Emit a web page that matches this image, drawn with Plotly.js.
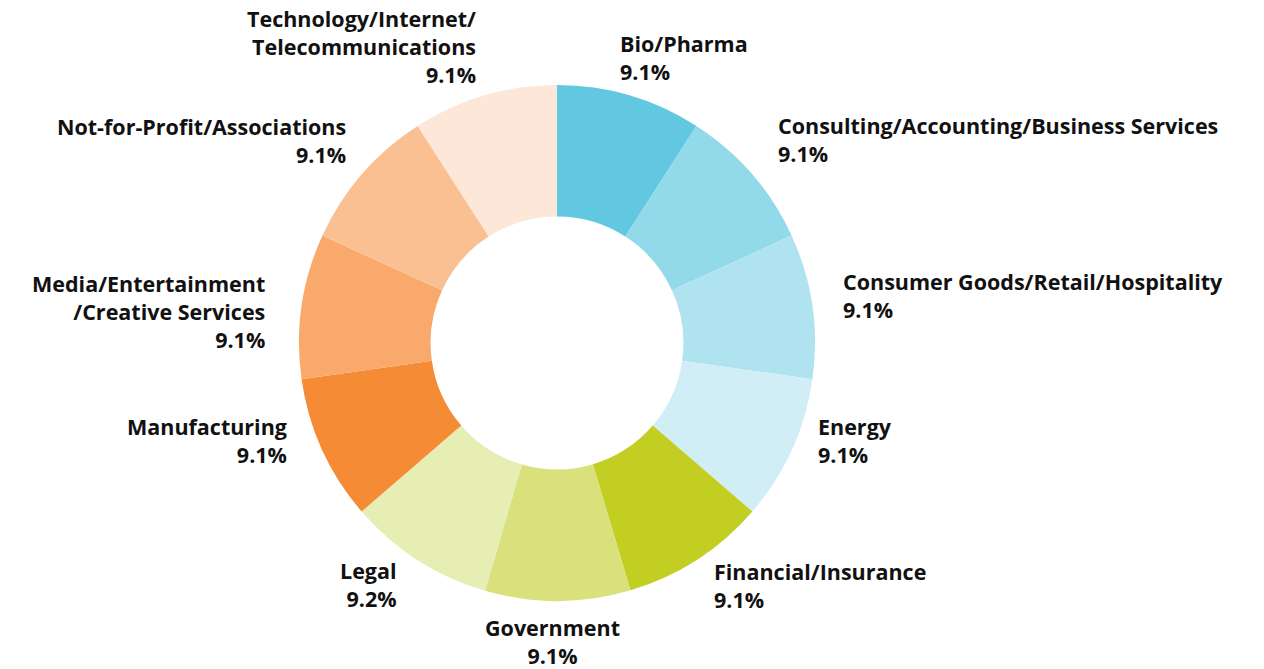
<!DOCTYPE html>
<html>
<head>
<meta charset="utf-8">
<script src="https://cdn.plot.ly/plotly-3.0.1.min.js"></script>
<style>
html,body{margin:0;padding:0;background:#fff;}
#chart{width:1264px;height:669px;}
</style>
</head>
<body>
<div id="chart"></div>
<script>
// ---- data ----
const categories = [
  "Bio/Pharma",
  "Consulting/Accounting/Business Services",
  "Consumer Goods/Retail/Hospitality",
  "Energy",
  "Financial/Insurance",
  "Government",
  "Legal",
  "Manufacturing",
  "Media/Entertainment<br>/Creative Services",
  "Not-for-Profit/Associations",
  "Technology/Internet/<br>Telecommunications"
];
const shares = [9.1, 9.1, 9.1, 9.1, 9.1, 9.1, 9.2, 9.1, 9.1, 9.1, 9.1];
const sliceColors = [
  "#62C8E1", "#92D9EA", "#B0E3F0", "#D1EEF6",
  "#C2CE22", "#D9E07C", "#E7EEB4",
  "#F68B35", "#F8A96B", "#FBC092", "#FDE7D8"
];

// ---- layout geometry (pixels) ----
const W = 1264, H = 669;
const cx = 557, cy = 343, R = 258;
const labelR = 292;
// small label nudges [dx, dy] in pixels (screen coords)
const nudges = [
  [-21, -5], [-2, -12], [-5, -6], [-7, -23], [-3, -3],
  [-5, 7], [0, -4], [-2, -23], [-1, 10], [12, -11], [3, -16]
];

const total = shares.reduce((a, b) => a + b, 0);
let cum = 0;
const annotations = shares.map((v, i) => {
  const mid = (cum + v / 2) / total * 2 * Math.PI;
  cum += v;
  const s = Math.sin(mid), c = Math.cos(mid);
  const px = cx + labelR * s + nudges[i][0];
  const py = cy - labelR * c + nudges[i][1];
  let anchor = "center";
  if (s > 0.05) anchor = "left";
  else if (s < -0.05) anchor = "right";
  return {
    xref: "paper", yref: "paper",
    x: px / W, y: 1 - py / H,
    xanchor: anchor, yanchor: "middle", align: anchor,
    showarrow: false,
    text: categories[i] + "<br>" + v.toFixed(1) + "%",
    font: {family: "Open Sans, Noto Sans, sans-serif", size: 21.5, color: "#111111", weight: 700}
  };
});

const trace = {
  type: "pie",
  labels: categories,
  values: shares,
  sort: false,
  direction: "clockwise",
  rotation: 0,
  hole: 0.49,
  textinfo: "none",
  hoverinfo: "label+percent",
  marker: {colors: sliceColors, line: {width: 0}},
  domain: {x: [(cx - R) / W, (cx + R) / W], y: [1 - (cy + R) / H, 1 - (cy - R) / H]}
};

const layout = {
  width: W, height: H,
  margin: {l: 0, r: 0, t: 0, b: 0},
  showlegend: false,
  paper_bgcolor: "#ffffff",
  plot_bgcolor: "#ffffff",
  annotations: annotations
};

Plotly.newPlot("chart", [trace], layout, {displayModeBar: false, staticPlot: true});
</script>
</body>
</html>
